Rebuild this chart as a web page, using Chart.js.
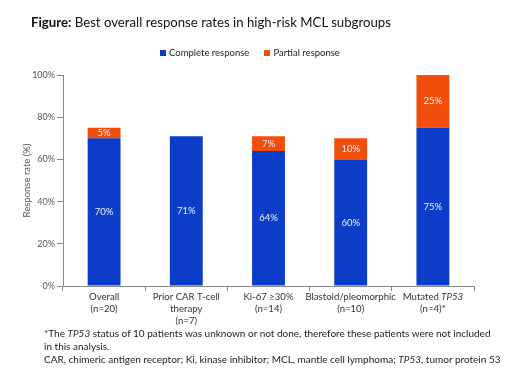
<!DOCTYPE html>
<html>
<head>
<meta charset="utf-8">
<script src="https://cdn.jsdelivr.net/npm/chart.js@4.4.1/dist/chart.umd.min.js"></script>
<style>
  body { margin: 0; background: #fff; font-family: Lato, "Open Sans", sans-serif; }
  #wrap { position: relative; width: 520px; height: 376px; overflow: hidden; }
  #chart { position: absolute; left: 0; top: 0; }
  .title { position: absolute; left: 31px; top: 14px; font-size: 13.2px; color: #111; white-space: nowrap; }
  .legend { position: absolute; top: 47px; left: 160px; width: 176px; text-align: center; font-size: 9.5px; color: #222; white-space: nowrap; }
  .legend span.box { display: inline-block; width: 6px; height: 6px; margin-right: 3px; vertical-align: 0px; }
  .notes { position: absolute; left: 44px; top: 327px; font-size: 10px; line-height: 13px; color: #222; white-space: nowrap; }
</style>
</head>
<body>
<div id="wrap">
  <canvas id="chart" width="520" height="376"></canvas>
  <div class="title"><b>Figure:</b> Best overall response rates in high-risk MCL subgroups</div>
  <div class="legend"><span class="box" style="background:#0b3dc8"></span>Complete response<span class="box" style="background:#f04e0a; margin-left:15px"></span>Partial response</div>
  <div class="notes">
    *The <i>TP53</i> status of 10 patients was unknown or not done, therefore these patients were not included<br>
    in this analysis.<br>
    CAR, chimeric antigen receptor; Ki, kinase inhibitor; MCL, mantle cell lymphoma; <i>TP53</i>, tumor protein 53
  </div>
</div>
<script>
// ---- data ----
const categories = [
  ['Overall', '(n=20)'],
  ['Prior CAR T-cell', 'therapy', '(n=7)'],
  ['Ki-67 \u226530%', '(n=14)'],
  ['Blastoid/pleomorphic', '(n=10)'],
  ['Mutated *TP53*', '(n=4)*']
];
const completeResponse = [70, 71, 64, 60, 75];
const partialResponse = [5, null, 7, 10, 25];
const yTicks = [0, 20, 40, 60, 80, 100];

const BLUE = '#0b3dc8';
const ORANGE = '#f04e0a';
const FONT = 'Lato, "Open Sans", sans-serif';

// white % labels centred in each segment
const segmentLabels = {
  id: 'segmentLabels',
  afterDatasetsDraw(chart) {
    const ctx = chart.ctx;
    ctx.save();
    ctx.font = '9.5px ' + FONT;
    ctx.fillStyle = '#eef1ff';
    ctx.textAlign = 'center';
    ctx.textBaseline = 'middle';
    chart.data.datasets.forEach((ds, di) => {
      chart.getDatasetMeta(di).data.forEach((bar, i) => {
        const v = ds.data[i];
        if (v == null) return;
        ctx.fillText(v + '%', bar.x, (bar.y + bar.base) / 2);
      });
    });
    ctx.restore();
  }
};

// category labels, *...* drawn in italics
const xLabels = {
  id: 'xLabels',
  afterDraw(chart) {
    const ctx = chart.ctx;
    const xs = chart.scales.x;
    ctx.save();
    ctx.fillStyle = '#333';
    ctx.textBaseline = 'middle';
    ctx.textAlign = 'left';
    categories.forEach((lines, i) => {
      const cx = xs.getPixelForValue(i);
      lines.forEach((line, li) => {
        const y = xs.top + 11 + li * 12;
        const segs = line.endsWith(')*')
          ? [{ t: line, it: false }]
          : line.split('*').map((t, k) => ({ t, it: k % 2 === 1 })).filter(p => p.t);
        let w = 0;
        segs.forEach(p => { ctx.font = (p.it ? 'italic ' : '') + '9.6px ' + FONT; p.w = ctx.measureText(p.t).width; w += p.w; });
        let x = cx - w / 2;
        segs.forEach(p => { ctx.font = (p.it ? 'italic ' : '') + '9.6px ' + FONT; ctx.fillText(p.t, x, y); x += p.w; });
      });
    });
    ctx.restore();
  }
};

new Chart(document.getElementById('chart'), {
  type: 'bar',
  data: {
    labels: categories.map(c => c.join(' ')),
    datasets: [
      { label: 'Complete response', data: completeResponse, backgroundColor: BLUE },
      { label: 'Partial response', data: partialResponse, backgroundColor: ORANGE }
    ]
  },
  options: {
    responsive: false,
    animation: false,
    layout: { padding: { left: 0, top: 75, right: 46, bottom: 70 } },
    datasets: { bar: { barPercentage: 0.4, categoryPercentage: 1 } },
    plugins: { legend: { display: false }, tooltip: { enabled: false } },
    scales: {
      x: {
        stacked: true,
        afterFit: s => { s.height = 20; },
        ticks: { display: false },
        grid: { offset: true, drawOnChartArea: false, tickLength: 5, color: '#8a8a8a' },
        border: { color: '#8a8a8a' }
      },
      y: {
        stacked: true,
        min: 0,
        max: 100,
        afterFit: s => { s.width = 63; },
        afterBuildTicks: s => { s.ticks = yTicks.map(v => ({ value: v })); },
        ticks: {
          callback: v => v + '%',
          font: { family: FONT, size: 9 },
          color: '#555',
          padding: 2
        },
        grid: { drawOnChartArea: false, tickLength: 6, color: '#8a8a8a' },
        border: { color: '#8a8a8a' },
        title: {
          display: true,
          text: 'Response rate (%)',
          font: { family: FONT, size: 9.5 },
          color: '#555',
          padding: { top: 21, bottom: 0 }
        }
      }
    }
  },
  plugins: [segmentLabels, xLabels]
});
</script>
</body>
</html>
